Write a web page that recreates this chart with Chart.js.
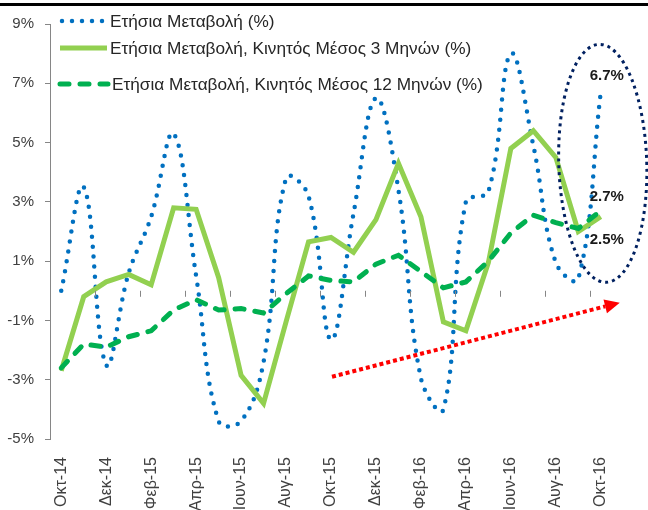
<!DOCTYPE html>
<html>
<head>
<meta charset="utf-8">
<script src="https://cdn.jsdelivr.net/npm/chart.js@4"></script>
<style>
  html, body { margin: 0; padding: 0; background: #fff; overflow: hidden; }
  #wrap { position: relative; width: 648px; height: 510px; }
  #rule { position: absolute; left: 0; top: 3px; width: 648px; height: 3px; background: #000; }
</style>
</head>
<body>
<div id="wrap">
  <canvas id="chart" width="648" height="510"></canvas>
  <div id="rule"></div>
</div>
<script>
const FONT = "'Liberation Sans Narrow', 'Liberation Sans', Arial, sans-serif";

const months = ['Οκτ-14', 'Νοε-14', 'Δεκ-14', 'Ιαν-15', 'Φεβ-15', 'Μαρ-15', 'Απρ-15', 'Μαϊ-15',
  'Ιουν-15', 'Ιουλ-15', 'Αυγ-15', 'Σεπ-15', 'Οκτ-15', 'Νοε-15', 'Δεκ-15', 'Ιαν-16', 'Φεβ-16',
  'Μαρ-16', 'Απρ-16', 'Μαϊ-16', 'Ιουν-16', 'Ιουλ-16', 'Αυγ-16', 'Σεπ-16', 'Οκτ-16'];

const seriesNames = [
  'Ετήσια Μεταβολή (%)',
  'Ετήσια Μεταβολή, Κινητός Μέσος 3 Μηνών (%)',
  'Ετήσια Μεταβολή, Κινητός Μέσος 12 Μηνών (%)'
];

// ετήσια μεταβολή (%)
const annualChange = [0.0, 3.5, -2.5, 0.6, 2.5, 5.3, 0.5, -4.4, -4.4, -2.4, 3.8, 3.2, -1.65,
  2.6, 6.5, 3.4, -2.95, -4.0, 3.0, 3.35, 8.0, 4.9, 0.95, 0.4, 6.7];
// κινητός μέσος 3 μηνών
const ma3 = [-2.7, -0.2, 0.3, 0.55, 0.2, 2.8, 2.75, 0.45, -2.85, -3.8, -1.05, 1.65, 1.8,
  1.3, 2.4, 4.3, 2.5, -1.05, -1.35, 0.95, 4.8, 5.4, 4.5, 2.0, 2.5];
// κινητός μέσος 12 μηνών
const ma12 = [-2.6, -1.8, -1.9, -1.55, -1.35, -0.65, -0.3, -0.65, -0.6, -0.75, -0.1, 0.5, 0.35,
  0.3, 0.9, 1.2, 0.65, 0.1, 0.3, 1.0, 1.95, 2.55, 2.3, 2.1, 2.7];

const yTicks = [-5, -3, -1, 1, 3, 5, 7, 9];

// μικρές γραμμές πάνω στον άξονα του μηδενός, ανά δύο μήνες
const zeroTicks = {
  id: 'zeroTicks',
  afterDatasetsDraw(chart) {
    const { ctx, scales: { x, y } } = chart;
    const y0 = y.getPixelForValue(0);
    ctx.save();
    ctx.strokeStyle = '#868686';
    ctx.lineWidth = 1;
    for (let i = 1; i < months.length - 1; i += 2) {
      const px = Math.round((x.getPixelForValue(i) + x.getPixelForValue(i + 1)) / 2) + 0.5;
      ctx.beginPath();
      ctx.moveTo(px, y0);
      ctx.lineTo(px, y0 + 6);
      ctx.stroke();
    }
    ctx.restore();
  }
};

// υπόμνημα μέσα στο γράφημα
const legendRows = [
  { y: 21, x0: 62, x1: 104, tx: 110 },
  { y: 48, x0: 60, x1: 107, tx: 110 },
  { y: 84, x0: 60, x1: 108, tx: 112 }
];
const insideLegend = {
  id: 'insideLegend',
  afterDraw(chart) {
    const ctx = chart.ctx;
    ctx.save();
    // μέγεθος γραμματοσειράς ώστε το πλάτος να ταιριάζει
    ctx.font = '20px ' + FONT;
    const w = ctx.measureText(seriesNames[2]).width;
    const size = Math.min(18, 20 * 371 / w);
    chart.data.datasets.forEach((ds, i) => {
      const r = legendRows[i];
      ctx.strokeStyle = ds.borderColor;
      ctx.lineWidth = ds.borderWidth;
      ctx.lineCap = ds.borderCapStyle || 'butt';
      ctx.setLineDash(ds.borderDash || []);
      ctx.beginPath();
      ctx.moveTo(r.x0, r.y);
      ctx.lineTo(r.x1, r.y);
      ctx.stroke();
      ctx.setLineDash([]);
      ctx.fillStyle = '#262626';
      ctx.font = size + 'px ' + FONT;
      ctx.textBaseline = 'middle';
      ctx.textAlign = 'left';
      ctx.fillText(seriesNames[i], r.tx, r.y + 1);
    });
    ctx.restore();
  }
};

// έλλειψη, βέλος και ετικέτες τελευταίου μήνα
const notes = {
  id: 'notes',
  afterDraw(chart) {
    const { ctx, scales: { x, y } } = chart;
    const last = months.length - 1;
    const xl = x.getPixelForValue(last);
    ctx.save();

    ctx.strokeStyle = '#002060';
    ctx.lineWidth = 3;
    ctx.setLineDash([3, 4]);
    ctx.beginPath();
    ctx.ellipse(xl + 2, y.getPixelForValue(4.3), 44, 119, -0.03, 0, Math.PI * 2);
    ctx.stroke();

    const sx = x.getPixelForValue(12) + 1, sy = y.getPixelForValue(-2.9);
    const ex = xl + 19, ey = y.getPixelForValue(-0.4);
    const ang = Math.atan2(ey - sy, ex - sx);
    const head = 15;
    const bx = ex - head * Math.cos(ang), by = ey - head * Math.sin(ang);
    ctx.strokeStyle = '#FF0000';
    ctx.lineWidth = 4;
    ctx.setLineDash([4, 3]);
    ctx.beginPath();
    ctx.moveTo(sx, sy);
    ctx.lineTo(bx, by);
    ctx.stroke();
    ctx.setLineDash([]);
    ctx.fillStyle = '#FF0000';
    ctx.beginPath();
    ctx.moveTo(ex, ey);
    ctx.lineTo(bx + 7 * Math.sin(ang), by - 7 * Math.cos(ang));
    ctx.lineTo(bx - 7 * Math.sin(ang), by + 7 * Math.cos(ang));
    ctx.closePath();
    ctx.fill();

    ctx.fillStyle = '#1a1a1a';
    ctx.font = "bold 15px 'Liberation Sans', Arial, sans-serif";
    ctx.textAlign = 'center';
    ctx.textBaseline = 'middle';
    ctx.fillText(annualChange[last].toFixed(1) + '%', xl + 6, y.getPixelForValue(annualChange[last]) - 16);
    ctx.fillText(ma12[last].toFixed(1) + '%', xl + 6, y.getPixelForValue(ma12[last]) - 14);
    ctx.fillText(ma3[last].toFixed(1) + '%', xl + 6, y.getPixelForValue(ma3[last]) + 23);
    ctx.restore();
  }
};

new Chart(document.getElementById('chart'), {
  type: 'line',
  data: {
    labels: months,
    datasets: [{
      label: seriesNames[0],
      data: annualChange,
      borderColor: '#0070C0',
      borderWidth: 4.5,
      borderDash: [0, 10],
      borderCapStyle: 'round',
      tension: 0.4,
      pointRadius: 0,
      order: 3
    }, {
      label: seriesNames[1],
      data: ma3,
      borderColor: '#92D050',
      borderWidth: 5,
      borderJoinStyle: 'miter',
      tension: 0,
      pointRadius: 0,
      order: 2
    }, {
      label: seriesNames[2],
      data: ma12,
      borderColor: '#00B050',
      borderWidth: 5,
      borderDash: [9, 11],
      borderCapStyle: 'round',
      tension: 0,
      pointRadius: 0,
      order: 1
    }]
  },
  options: {
    responsive: false,
    animation: false,
    layout: { padding: { top: 24, right: 36, left: 0, bottom: 0 } },
    plugins: {
      legend: { display: false },
      tooltip: { enabled: false }
    },
    scales: {
      x: {
        offset: true,
        grid: { display: false },
        border: { display: false },
        ticks: {
          autoSkip: false,
          minRotation: 90,
          maxRotation: 90,
          padding: 10,
          color: '#404040',
          font: { family: FONT, size: 16 },
          callback: (v, i) => i % 2 === 0 ? months[i] : ''
        },
        afterFit: s => { s.height = 71; }
      },
      y: {
        min: -5,
        max: 9,
        afterBuildTicks: s => { s.ticks = yTicks.map(v => ({ value: v })); },
        grid: {
          drawOnChartArea: true,
          color: c => c.tick && c.tick.value === 0 ? '#868686' : 'rgba(0,0,0,0)',
          tickColor: '#868686',
          tickLength: 5
        },
        border: { display: true, color: '#868686' },
        ticks: {
          padding: 11,
          color: '#404040',
          font: { family: FONT, size: 15 },
          callback: v => v + '%'
        },
        afterFit: s => { s.width = 50; }
      }
    }
  },
  plugins: [zeroTicks, insideLegend, notes]
});
</script>
</body>
</html>
